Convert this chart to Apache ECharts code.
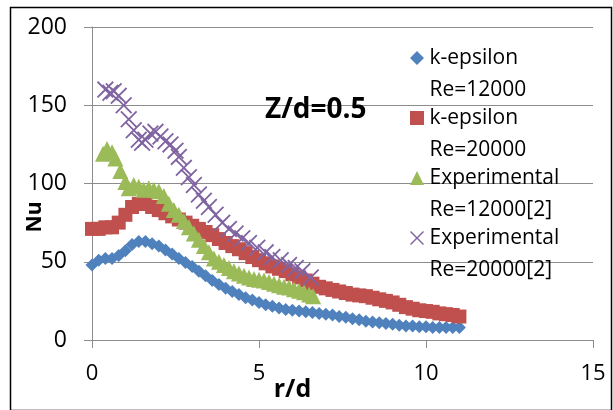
<!DOCTYPE html>
<html>
<head>
<meta charset="utf-8">
<script src="https://cdn.jsdelivr.net/npm/echarts@6/dist/echarts.min.js"></script>
<style>html,body{margin:0;padding:0;background:#fff}#c{width:613px;height:410px}</style>
</head>
<body>
<div id="c"></div>
<script>
// ---- data ----
const xTicks = [0, 5, 10, 15];
const yTicks = [0, 50, 100, 150, 200];
const seriesNames = ['k-epsilon\nRe=12000', 'k-epsilon\nRe=20000', 'Experimental\nRe=12000[2]', 'Experimental\nRe=20000[2]'];

const cfdX = [0,0.2,0.4,0.6,0.8,1,1.2,1.4,1.6,1.8,2,2.2,2.4,2.6,2.8,3,3.2,3.4,3.6,3.8,4,4.2,4.4,4.6,4.8,5,5.2,5.4,5.6,5.8,6,6.2,6.4,6.6,6.8,7,7.2,7.4,7.6,7.8,8,8.2,8.4,8.6,8.8,9,9.2,9.4,9.6,9.8,10,10.2,10.4,10.6,10.8,11];
const ke12000 = [48,51,52,52,54,57,61,63,63,61.5,60,57.5,55,52,49.5,47,44,41,38,35.5,33,31,29,27,25.5,24,22.5,21.5,20.5,19.5,19,18.5,18,17.5,17,16.5,16,15,14.5,13.5,13,12,11.5,11,10.5,10,9.5,9,9,8.5,8.5,8,8,8,8,8];
const ke20000 = [71,71,72,72,75,80,85,87,87,85,83,81,79,77,75,73,71,69,67,64.5,62,60,58,55.5,53,51,49,47,45.5,44,42,40,38,36,34,33,32,31,30,29,28.5,28,27,26,25,24,22.5,21,20,19,18.5,18,17,16.5,16,15];

const exp12000X = [0.33,0.45,0.6,0.7,0.85,1.0,1.1,1.25,1.4,1.55,1.7,1.85,2.0,2.15,2.3,2.45,2.6,2.75,2.9,3.05,3.2,3.35,3.5,3.65,3.8,3.95,4.1,4.25,4.4,4.55,4.7,4.85,5.0,5.15,5.3,5.45,5.6,5.75,5.9,6.05,6.2,6.35,6.5,6.62];
const exp12000Y = [119,122,120,116,108,101,97,99,98,96,97,96,95,92,87,83,80,76,72,68,64,60,56,52,50,48,46,44,42.5,41,40,39,38.5,38,37,36,35,34,33.5,32.5,31.5,30.5,29,28];

const exp20000X = [0.4,0.55,0.65,0.8,0.95,1.1,1.25,1.4,1.5,1.6,1.75,1.9,2.05,2.2,2.35,2.5,2.6,2.75,2.9,3.05,3.2,3.35,3.5,3.7,3.9,4.1,4.3,4.5,4.7,4.95,5.2,5.4,5.65,5.9,6.1,6.3,6.55];
const exp20000Y = [160,158,159,156,150,141,134,128,126,128,132,133,130,127,125,121,117,110,104,99,93,89,85,80,75,71,68,65,62,59,56,53,51,48,46,44,40];

const annotation = 'Z/d=0.5';
const xName = 'r/d';
const yName = 'Nu';

// ---- chart ----
const FONT = '"Open Sans", "Liberation Sans", sans-serif';
const zip = (xs, ys) => xs.map((x, i) => [x, ys[i]]);
const crossPath = 'path://M0,1.2 L1.2,0 L8,6.8 L14.8,0 L16,1.2 L9.2,8 L16,14.8 L14.8,16 L8,9.2 L1.2,16 L0,14.8 L6.8,8 Z';
// legend icons: the shape sits at the top of a taller box so it lines up with the first text line
const tail = ' M7,45.98 L7.02,46 L6.98,46 Z';
const legendIcons = [
  'path://M7,0 L14,7 L7,14 L0,7 Z' + tail,
  'path://M0,0 L14,0 L14,14 L0,14 Z' + tail,
  'path://M7,0 L14,14 L0,14 Z' + tail,
  'path://M0,1 L1,0 L7,6 L13,0 L14,1 L8,7 L14,13 L13,14 L7,8 L1,14 L0,13 L6,7 Z' + tail
];

const chart = echarts.init(document.getElementById('c'), null, {renderer: 'canvas'});
chart.setOption({
  animation: false,
  backgroundColor: '#fff',
  grid: {left: 92, right: 20, top: 27, bottom: 70, containLabel: false, outerBoundsMode: 'none'},
  xAxis: {
    type: 'value', min: 0, max: 15, interval: 5,
    name: xName, nameLocation: 'middle', nameGap: 37, nameMoveOverlap: false,
    nameTextStyle: {fontFamily: FONT, fontSize: 25, fontWeight: 'bold', color: '#000', padding: [0, 100, 0, 0]},
    axisLine: {show: true, lineStyle: {color: '#8c8c8c', width: 1}},
    axisTick: {show: true, length: 8, inside: false, lineStyle: {color: '#8c8c8c'}},
    splitLine: {show: false},
    axisLabel: {fontFamily: FONT, fontSize: 22, color: '#000', margin: 23}
  },
  yAxis: {
    type: 'value', min: 0, max: 200, interval: 50,
    axisLine: {show: true, lineStyle: {color: '#8c8c8c', width: 1}},
    axisTick: {show: true, length: 8, inside: false, lineStyle: {color: '#8c8c8c'}},
    splitLine: {show: true, lineStyle: {color: '#8c8c8c', width: 1}},
    axisLabel: {fontFamily: FONT, fontSize: 23, color: '#000', margin: 25}
  },
  legend: {
    orient: 'vertical', left: 410, top: 42, padding: 0, itemGap: -4,
    itemWidth: 15, itemHeight: 46,
    textStyle: {fontFamily: FONT, fontSize: 21, color: '#000', lineHeight: 32},
    data: seriesNames.map((n, i) => ({name: n, icon: legendIcons[i]}))
  },
  graphic: [
    {type: 'rect', left: 8, top: 5, shape: {width: 601, height: 403}, style: {fill: 'none', stroke: '#000', lineWidth: 1.5}, silent: true, z: 100},
    {type: 'text', left: 265, top: 96, style: {text: annotation, fontFamily: FONT, fontSize: 28, fontWeight: 'bold', fill: '#000'}, z: 100},
    {type: 'text', x: 35, y: 217, rotation: Math.PI / 2, style: {text: yName, fontFamily: FONT, fontSize: 21, fontWeight: 'bold', fill: '#000', align: 'center', verticalAlign: 'middle'}, z: 100}
  ],
  series: [
    {name: seriesNames[0], type: 'scatter', symbol: 'diamond', symbolSize: 13, itemStyle: {color: '#4F81BD', opacity: 1}, data: zip(cfdX, ke12000), z: 2},
    {name: seriesNames[1], type: 'scatter', symbol: 'rect', symbolSize: 14, itemStyle: {color: '#C0504D', opacity: 1}, data: zip(cfdX, ke20000), z: 3},
    {name: seriesNames[2], type: 'scatter', symbol: 'triangle', symbolSize: 16, itemStyle: {color: '#9BBB59', opacity: 1}, data: zip(exp12000X, exp12000Y), z: 4},
    {name: seriesNames[3], type: 'scatter', symbol: crossPath, symbolSize: 17, itemStyle: {color: '#8064A2', opacity: 1}, data: zip(exp20000X, exp20000Y), z: 5}
  ]
});
</script>
</body>
</html>
